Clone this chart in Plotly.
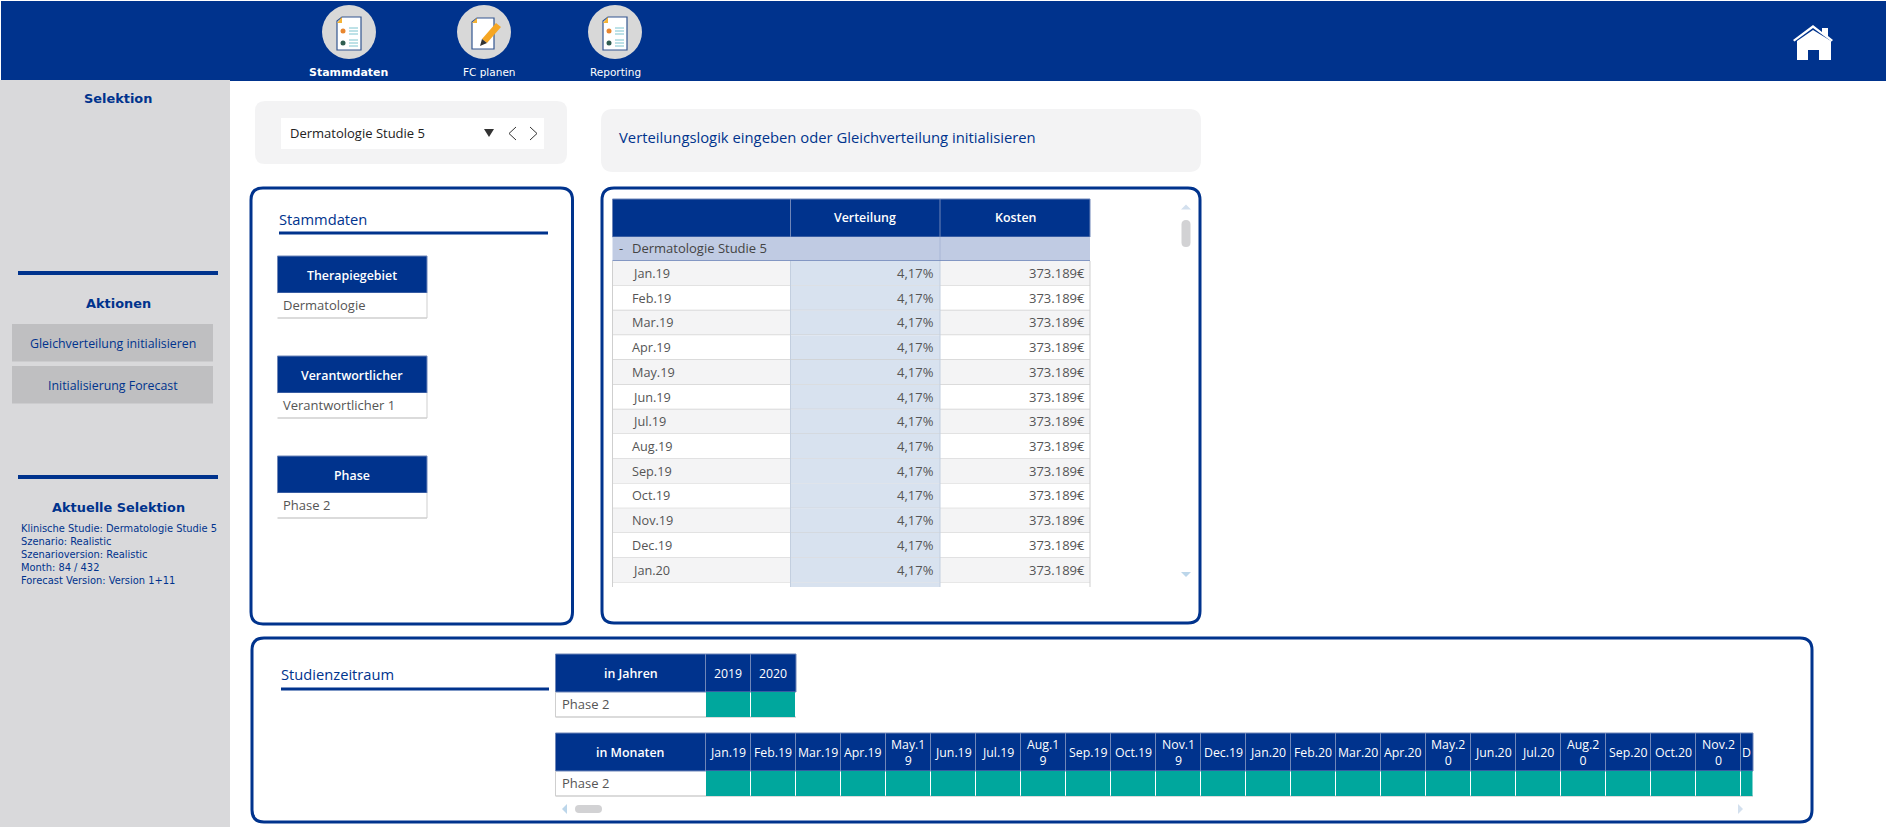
import plotly.graph_objects as go

# ---------------------------------------------------------------------
# data
# ---------------------------------------------------------------------
nav_labels = ["Stammdaten", "FC planen", "Reporting"]
action_labels = ["Gleichverteilung initialisieren", "Initialisierung Forecast"]
selection_lines = [
    "Klinische Studie: Dermatologie Studie 5",
    "Szenario: Realistic",
    "Szenarioversion: Realistic",
    "Month: 84 / 432",
    "Forecast Version: Version 1+11",
]
master_headers = ["Therapiegebiet", "Verantwortlicher", "Phase"]
master_values = ["Dermatologie", "Verantwortlicher 1", "Phase 2"]

table_months = ["Jan.19", "Feb.19", "Mar.19", "Apr.19", "May.19", "Jun.19", "Jul.19",
                "Aug.19", "Sep.19", "Oct.19", "Nov.19", "Dec.19", "Jan.20"]
verteilung = [4.17, 4.17, 4.17, 4.17, 4.17, 4.17, 4.17, 4.17, 4.17, 4.17, 4.17, 4.17, 4.17]
kosten = [373189, 373189, 373189, 373189, 373189, 373189, 373189,
          373189, 373189, 373189, 373189, 373189, 373189]

year_labels = ["2019", "2020"]
year_active = [1, 1]
month_labels = ["Jan.19", "Feb.19", "Mar.19", "Apr.19", "May.1<br>9", "Jun.19", "Jul.19",
                "Aug.1<br>9", "Sep.19", "Oct.19", "Nov.1<br>9", "Dec.19", "Jan.20", "Feb.20",
                "Mar.20", "Apr.20", "May.2<br>0", "Jun.20", "Jul.20", "Aug.2<br>0", "Sep.20",
                "Oct.20", "Nov.2<br>0", "D"]
month_active = [1, 1, 1, 1, 1, 1, 1, 1, 1, 1, 1, 1, 1, 1, 1, 1, 1, 1, 1, 1, 1, 1, 1, 1]

NAVY = "#00338D"
TEAL = "#00A79D"
SIDE = "#D9D9DB"
BUTTON = "#BFBFC1"
SOFT = "#F3F3F4"
GRID = "#CFCFCF"
HEAD_LINE = "#6F86B8"
BODY_FONT = "Open Sans"
SIDE_FONT = "DejaVu Sans"
TEXT = "#555555"

shapes = []
notes = []


def rect(x0, y0, x1, y1, fill, line=None, width=1):
    shapes.append(dict(type="rect", x0=x0, y0=y0, x1=x1, y1=y1, fillcolor=fill,
                       line=dict(color=line or fill, width=width if line else 0),
                       layer="below"))


def hline(x0, x1, y, color, width=1):
    shapes.append(dict(type="line", x0=x0, x1=x1, y0=y, y1=y,
                       line=dict(color=color, width=width), layer="below"))


def vline(x, y0, y1, color, width=1):
    shapes.append(dict(type="line", x0=x, x1=x, y0=y0, y1=y1,
                       line=dict(color=color, width=width), layer="below"))


def path(d, fill="rgba(0,0,0,0)", line=None, width=0):
    shapes.append(dict(type="path", path=d, fillcolor=fill,
                       line=dict(color=line or "rgba(0,0,0,0)", width=width), layer="above"))


def round_box(x0, y0, x1, y1, r, fill, line=None, width=0):
    d = (f"M{x0 + r},{y0} L{x1 - r},{y0} Q{x1},{y0} {x1},{y0 + r} L{x1},{y1 - r} "
         f"Q{x1},{y1} {x1 - r},{y1} L{x0 + r},{y1} Q{x0},{y1} {x0},{y1 - r} "
         f"L{x0},{y0 + r} Q{x0},{y0} {x0 + r},{y0} Z")
    shapes.append(dict(type="path", path=d, fillcolor=fill,
                       line=dict(color=line or "rgba(0,0,0,0)", width=width), layer="below"))


def label(x, y, text, size=13, color=TEXT, anchor="left", weight=400, family=BODY_FONT):
    notes.append(dict(x=x, y=y, text=text, showarrow=False,
                      xanchor=anchor, yanchor="middle", align="center", borderpad=0,
                      font=dict(size=size, color=color, family=family, weight=weight)))


def doc_icon(cx, cy):
    shapes.append(dict(type="circle", x0=cx - 27, x1=cx + 27, y0=cy - 27, y1=cy + 27,
                       fillcolor="#D8D8D8", line=dict(width=0), layer="below"))
    path(f"M{cx - 12},{cy - 11} L{cx - 7},{cy - 15} L{cx + 12},{cy - 15} L{cx + 12},{cy + 18} "
         f"L{cx - 12},{cy + 18} Z", "white", "#33558F", 1.2)
    path(f"M{cx - 12},{cy - 9} L{cx - 7},{cy - 15} L{cx - 7},{cy - 9} Z", "#F5B335")
    for dy, col in [(-1, "#E8862E"), (11, "#2F5D50")]:
        shapes.append(dict(type="circle", x0=cx - 8.5, x1=cx - 3.5, y0=cy + dy - 2.5, y1=cy + dy + 2.5,
                           fillcolor=col, line=dict(width=0), layer="above"))
        for k in (-3, 0, 3):
            shapes.append(dict(type="line", x0=cx, x1=cx + 9, y0=cy + dy + k, y1=cy + dy + k,
                               line=dict(color="#7CC4CF", width=1), layer="above"))


def pen_icon(cx, cy):
    shapes.append(dict(type="circle", x0=cx - 27, x1=cx + 27, y0=cy - 27, y1=cy + 27,
                       fillcolor="#D8D8D8", line=dict(width=0), layer="below"))
    path(f"M{cx - 12},{cy - 10} L{cx - 7},{cy - 14} L{cx + 10},{cy - 14} L{cx + 10},{cy + 17} "
         f"L{cx - 12},{cy + 17} Z", "white", "#33558F", 1.2)
    path(f"M{cx - 12},{cy - 9} L{cx - 7},{cy - 14} L{cx - 7},{cy - 9} Z", "#F5B335")
    path(f"M{cx + 12},{cy - 9} L{cx + 17},{cy - 5} L{cx + 3},{cy + 11} L{cx - 2},{cy + 7} Z", "#F5A623")
    path(f"M{cx - 2},{cy + 7} L{cx + 3},{cy + 11} L{cx - 4},{cy + 14} Z", "#333333")


# ---------------------------------------------------------------------
# top bar and sidebar
# ---------------------------------------------------------------------
rect(1, 1, 1886, 81, NAVY)
rect(0, 80, 230, 827, SIDE)

doc_icon(349, 32)
pen_icon(484, 32)
doc_icon(615, 32)
label(348, 72, nav_labels[0], 11, "white", "center", 700, SIDE_FONT)
label(489, 72, nav_labels[1], 10.5, "white", "center", 400, SIDE_FONT)
label(615, 72, nav_labels[2], 10.5, "white", "center", 400, SIDE_FONT)

# home icon
path("M1793,40 L1813,25 L1822,32 L1822,28 L1828,28 L1828,36 L1833,40 L1831.5,41.5 L1813,28 "
     "L1794.5,41.5 Z", "white")
path("M1797,41 L1813,30 L1831,41 L1831,60 L1819,60 L1819,50 L1808,50 L1808,60 L1797,60 Z", "white")

label(118, 98, "Selektion", 12.9, NAVY, "center", 700, SIDE_FONT)
hline(18, 218, 273, NAVY, 4)
label(118, 303, "Aktionen", 12.9, NAVY, "center", 700, SIDE_FONT)
for i, text in enumerate(action_labels):
    top = [324, 366][i]
    rect(12, top, 213, top + 37.5, BUTTON)
    label(112.5, top + 19, text, 12.35, NAVY, "center")
hline(18, 218, 477, NAVY, 4)
label(118, 507, "Aktuelle Selektion", 12.9, NAVY, "center", 700, SIDE_FONT)
for i, text in enumerate(selection_lines):
    label(20, 528 + i * 13, text, 9.9, NAVY, "left", 400, SIDE_FONT)

# ---------------------------------------------------------------------
# study picker and hint box
# ---------------------------------------------------------------------
round_box(255, 101, 567, 164, 10, SOFT)
rect(281, 118, 544, 149, "white")
label(289, 133, "Dermatologie Studie 5", 13, "#222222")
path("M484,129 L494,129 L489,137 Z", "#333333")
path("M516,127 L509,133.5 L516,140", line="#333333", width=1)
path("M530,127 L537,133.5 L530,140", line="#333333", width=1)

round_box(601, 109, 1201, 172, 12, SOFT)
label(617.5, 137, "Verteilungslogik eingeben oder Gleichverteilung initialisieren", 14.8, NAVY)

# ---------------------------------------------------------------------
# Stammdaten panel
# ---------------------------------------------------------------------
round_box(251, 188, 572.5, 624, 12, "white", NAVY, 3)
label(278, 219, "Stammdaten", 14.7, NAVY)
hline(279, 548, 233, NAVY, 3)
for i, (head, value) in enumerate(zip(master_headers, master_values)):
    top = 256 + i * 100
    rect(277.5, top, 427, top + 37, NAVY, HEAD_LINE, 1)
    rect(277.5, top + 37, 427, top + 62, "white")
    vline(427, top + 37, top + 62, GRID)
    hline(277.5, 427, top + 62, GRID, 1.5)
    label(352, top + 19, head, 12.4, "white", "center", 600)
    label(282, top + 49, value, 13, TEXT)

# ---------------------------------------------------------------------
# Verteilung table
# ---------------------------------------------------------------------
T_LEFT, T_MID1, T_MID2, T_RIGHT = 612.5, 790.5, 940, 1090
HEAD_TOP, HEAD_BOT, GROUP_BOT = 199, 237, 261
ROW_H = 24.73
CLIP_BOT = 587

round_box(602, 188, 1200, 623, 12, "white", NAVY, 3)
rect(T_LEFT, HEAD_TOP, T_RIGHT, HEAD_BOT, NAVY, HEAD_LINE, 1)
vline(T_MID1, HEAD_TOP, HEAD_BOT, HEAD_LINE)
vline(T_MID2, HEAD_TOP, HEAD_BOT, HEAD_LINE)
label((T_MID1 + T_MID2) / 2, 217, "Verteilung", 12.4, "white", "center", 600)
label((T_MID2 + T_RIGHT) / 2, 217, "Kosten", 12.4, "white", "center", 600)

rect(T_LEFT, HEAD_BOT, T_RIGHT, GROUP_BOT, "#C0CBE3")
vline(T_MID2, HEAD_BOT, GROUP_BOT, "#A8B6D6")
hline(T_LEFT, T_RIGHT, GROUP_BOT, "#6F86B8", 1.5)
label(618, 247.5, "-", 13, "#444444")
label(631, 247.5, "Dermatologie Studie 5", 13, "#444444")

for i, month in enumerate(table_months):
    top = GROUP_BOT + i * ROW_H
    base = "#F4F4F5" if i % 2 == 0 else "white"
    rect(T_LEFT, top, T_RIGHT, top + ROW_H, base)
    rect(T_MID1, top, T_MID2, top + ROW_H, "#D8E2EF")
    hline(T_LEFT, T_RIGHT, top + ROW_H, GRID, 1.2)
    center = top + ROW_H / 2 - 0.5
    label(631, center, month, 12.7, TEXT)
    label(935, center, f"{verteilung[i]:.2f}%".replace(".", ","), 13, TEXT, "right")
    label(1086, center, f"{kosten[i]:,}€".replace(",", "."), 13, TEXT, "right")

last = GROUP_BOT + len(table_months) * ROW_H
rect(T_LEFT, last, T_RIGHT, CLIP_BOT, "white")
rect(T_MID1, last, T_MID2, CLIP_BOT, "#D8E2EF")
vline(T_LEFT, GROUP_BOT, CLIP_BOT, GRID)
vline(T_MID1, GROUP_BOT, CLIP_BOT, "#C3CFDF")
vline(T_MID2, GROUP_BOT, CLIP_BOT, "#C3CFDF")
vline(T_RIGHT, GROUP_BOT, CLIP_BOT, GRID)

# scrollbar
path("M1181,209.5 L1191,209.5 L1186,204.5 Z", "#D3E0EE")
round_box(1181.5, 220, 1190.5, 247, 4.5, "#D2D2D4")
path("M1181,572 L1191,572 L1186,577 Z", "#BCD6EA")

# ---------------------------------------------------------------------
# Studienzeitraum panel
# ---------------------------------------------------------------------
G_LEFT, G_NAME, G_STEP, G_CLIP = 555.5, 705.5, 45, 1753

round_box(252, 638, 1812, 822, 12, "white", NAVY, 3)
label(280, 674, "Studienzeitraum", 14.7, NAVY)
hline(281, 549, 689, NAVY, 3)


def gantt_frame(top, title, columns, bottom_right):
    head_bot, row_bot = top + 38, top + 63
    rect(G_LEFT, top, bottom_right, head_bot, NAVY, HEAD_LINE, 1)
    hline(G_LEFT, bottom_right, row_bot, GRID, 1.5)
    vline(G_LEFT, head_bot, row_bot, GRID)
    label((G_LEFT + G_NAME) / 2, top + 19, title, 12.4, "white", "center", 600)
    label(561, top + 50, "Phase 2", 13, TEXT)
    for i, text in enumerate(columns):
        x0 = G_NAME + i * G_STEP
        x1 = min(x0 + G_STEP, bottom_right)
        vline(x0, top, head_bot, HEAD_LINE)
        label((x0 + x1) / 2, top + 19, text, 12.3, "white", "center")


def gantt_bar(top, flags):
    # one bar per period, flag 1 = period lies inside the study
    xs, widths = [], []
    for i in range(len(flags)):
        x0 = G_NAME + i * G_STEP
        x1 = min(x0 + G_STEP, G_CLIP)
        xs.append((x0 + x1) / 2)
        widths.append(x1 - x0 - 1)
    return go.Bar(x=xs, y=[25 * f for f in flags], base=[top + 38] * len(flags), width=widths,
                  marker=dict(color=TEAL, line=dict(width=0)), hoverinfo="skip", showlegend=False)


YEAR_TOP, MONTH_TOP = 654, 733
gantt_frame(YEAR_TOP, "in Jahren", year_labels, G_NAME + len(year_labels) * G_STEP + 0.5)
gantt_frame(MONTH_TOP, "in Monaten", month_labels, G_CLIP)

# horizontal scrollbar of the month table
path("M567,804 L567,814 L562,809 Z", "#BCD6EA")
round_box(575, 805, 602, 813, 4, "#D2D2D4")
path("M1738,804 L1738,814 L1743,809 Z", "#D3E0EE")

fig = go.Figure(data=[gantt_bar(YEAR_TOP, year_active), gantt_bar(MONTH_TOP, month_active)])
fig.update_layout(
    width=1886,
    height=827,
    autosize=False,
    margin=dict(l=0, r=0, t=0, b=0),
    paper_bgcolor="white",
    plot_bgcolor="white",
    showlegend=False,
    barmode="overlay",
    shapes=shapes,
    annotations=notes,
    xaxis=dict(range=[0, 1886], visible=False, fixedrange=True),
    yaxis=dict(range=[827, 0], visible=False, fixedrange=True),
)
fig.write_html("out.html", config={"displayModeBar": False},
               post_script="document.body.style.margin='0';document.body.style.overflow='hidden';")
